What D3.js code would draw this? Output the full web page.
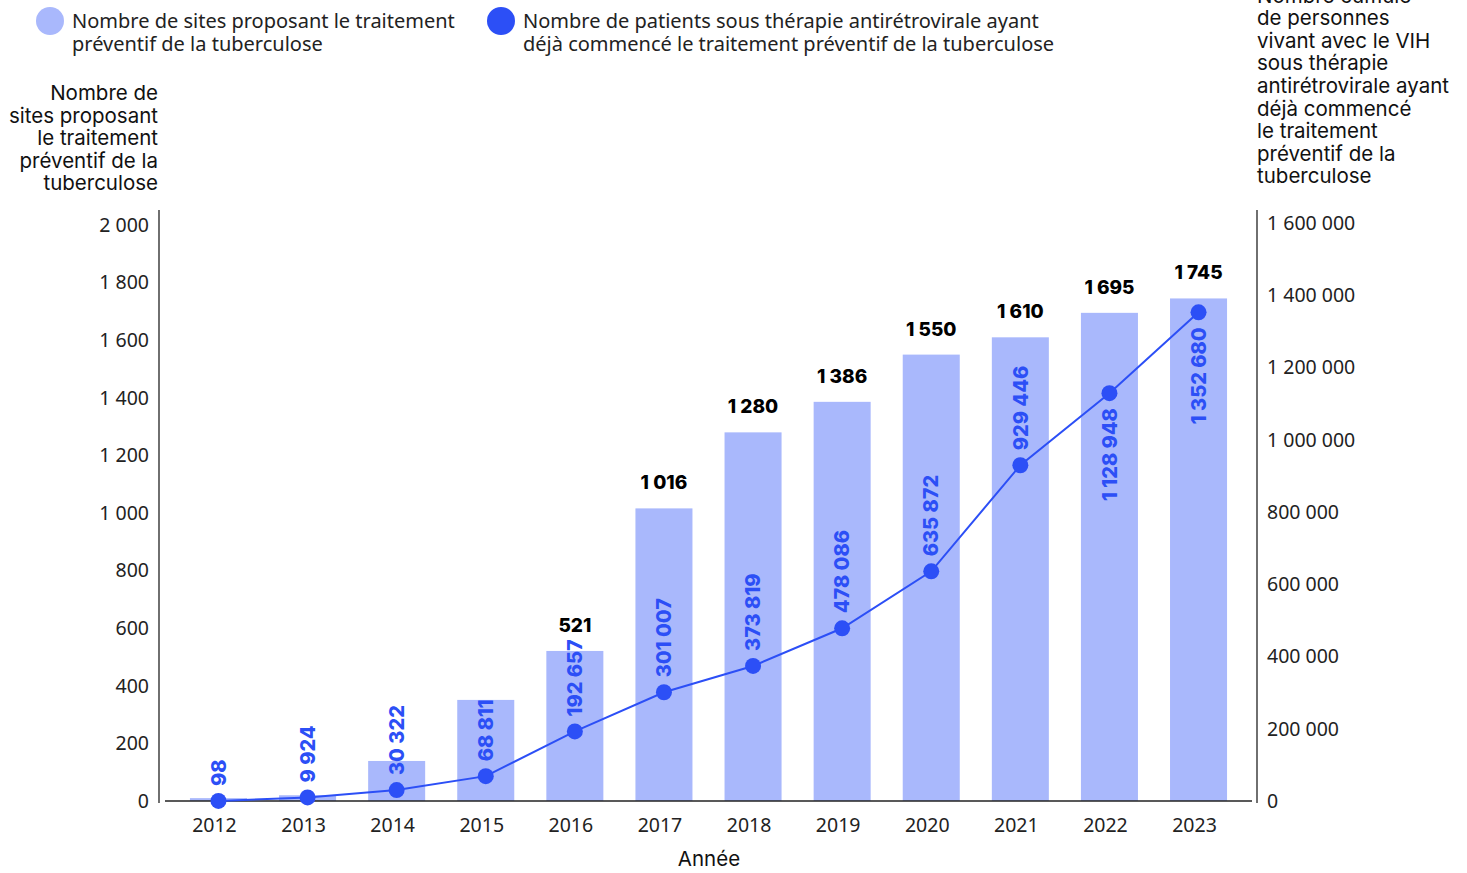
<!DOCTYPE html>
<html>
<head>
<meta charset="utf-8">
<script src="https://cdn.jsdelivr.net/npm/d3@7"></script>
<style>
  body { margin: 0; background: #fff; }
  svg { display: block; }
  .tick-label { font-family: "Noto Sans", sans-serif; font-size: 19.5px; fill: #222; }
  .title { font-family: Inter, sans-serif; font-size: 20.5px; fill: #111; }
  .legend-text { font-family: "Noto Sans", sans-serif; font-size: 20px; fill: #222; }
</style>
</head>
<body>
<svg width="1467" height="873"></svg>
<script>
const width = 1467;
const height = 873;

// données
const years = ["2012", "2013", "2014", "2015", "2016", "2017", "2018", "2019", "2020", "2021", "2022", "2023"];
const sites = [10, 20, 139, 351, 521, 1016, 1280, 1386, 1550, 1610, 1695, 1745];
const patients = [98, 9924, 30322, 68811, 192657, 301007, 373819, 478086, 635872, 929446, 1128948, 1352680];
const leftTicks = [0, 200, 400, 600, 800, 1000, 1200, 1400, 1600, 1800, 2000];
const rightTicks = [0, 200000, 400000, 600000, 800000, 1000000, 1200000, 1400000, 1600000];
const firstBarLabelYear = "2016";

const legendLabels = [
    ["Nombre de sites proposant le traitement", "préventif de la tuberculose"],
    ["Nombre de patients sous thérapie antirétrovirale ayant", "déjà commencé le traitement préventif de la tuberculose"]
];
const leftTitle = ["Nombre de", "sites proposant", "le traitement", "préventif de la", "tuberculose"];
const rightTitle = ["Nombre cumulé", "de personnes", "vivant avec le VIH", "sous thérapie", "antirétrovirale ayant", "déjà commencé", "le traitement", "préventif de la", "tuberculose"];
const xTitle = "Année";

const barColor = "#a9b8fc";
const lineColor = "#2c4ff6";

const fr = d3.formatLocale({ decimal: ",", thousands: "\u00a0", grouping: [3], currency: ["", " €"] });
const fmt = fr.format(",d");

const svg = d3.select("svg").attr("viewBox", [0, 0, width, height]);

const x = d3.scaleBand().domain(years).range([165, 1252]).paddingInner(0.36).paddingOuter(0.28);
const yLeft = d3.scaleLinear().domain([0, 2000]).range([801, 225]);
const yRight = d3.scaleLinear().domain([0, 1600000]).range([801, 223]);
const cx = i => x(years[i]) + x.bandwidth() / 2;
const hasBarLabel = i => +years[i] >= +firstBarLabelYear;

// barres
svg.append("g")
    .selectAll("rect")
    .data(sites)
    .join("rect")
    .attr("x", (d, i) => x(years[i]))
    .attr("width", x.bandwidth())
    .attr("y", d => yLeft(d))
    .attr("height", d => yLeft(0) - yLeft(d))
    .attr("fill", barColor);

// étiquettes des barres
svg.append("g")
    .selectAll("text")
    .data(sites)
    .join("text")
    .filter((d, i) => hasBarLabel(i))
    .attr("x", (d, i) => cx(sites.indexOf(d)))
    .attr("y", d => yLeft(d) - 19)
    .attr("text-anchor", "middle")
    .attr("font-family", "Inter, sans-serif")
    .attr("font-weight", 800)
    .attr("font-size", 19)
    .attr("fill", "#000")
    .text(d => fmt(d));

// axes
svg.append("line")
    .attr("x1", 159).attr("x2", 159).attr("y1", 210).attr("y2", 803)
    .attr("stroke", "#222").attr("stroke-width", 1.3);
svg.append("line")
    .attr("x1", 1257).attr("x2", 1257).attr("y1", 210).attr("y2", 803)
    .attr("stroke", "#222").attr("stroke-width", 1.3);
svg.append("line")
    .attr("x1", x.range()[0]).attr("x2", x.range()[1])
    .attr("y1", yLeft(0)).attr("y2", yLeft(0))
    .attr("stroke", "#222").attr("stroke-width", 1.3);

svg.append("g")
    .selectAll("text")
    .data(leftTicks)
    .join("text")
    .attr("class", "tick-label")
    .attr("x", 149)
    .attr("y", d => yLeft(d))
    .attr("dy", "0.35em")
    .attr("text-anchor", "end")
    .text(d => fmt(d));

svg.append("g")
    .selectAll("text")
    .data(rightTicks)
    .join("text")
    .attr("class", "tick-label")
    .attr("x", 1267)
    .attr("y", d => yRight(d))
    .attr("dy", "0.35em")
    .text(d => fmt(d));

svg.append("g")
    .selectAll("text")
    .data(years)
    .join("text")
    .attr("class", "tick-label")
    .attr("x", (d, i) => cx(i) - 4)
    .attr("y", 832)
    .attr("text-anchor", "middle")
    .text(d => d);

svg.append("text")
    .attr("class", "title")
    .attr("x", 709)
    .attr("y", 866)
    .attr("text-anchor", "middle")
    .text(xTitle);

// titres des axes
svg.append("text")
    .attr("class", "title")
    .attr("text-anchor", "end")
    .selectAll("tspan")
    .data(leftTitle)
    .join("tspan")
    .attr("x", 158)
    .attr("y", (d, i) => 100 + i * 22.5)
    .text(d => d);

svg.append("text")
    .attr("class", "title")
    .selectAll("tspan")
    .data(rightTitle)
    .join("tspan")
    .attr("x", 1257)
    .attr("y", (d, i) => 2.5 + i * 22.6)
    .text(d => d);

// ligne
const line = d3.line()
    .x((d, i) => cx(i))
    .y(d => yRight(d));

svg.append("path")
    .datum(patients)
    .attr("fill", "none")
    .attr("stroke", lineColor)
    .attr("stroke-width", 2)
    .attr("d", line);

svg.append("g")
    .selectAll("circle")
    .data(patients)
    .join("circle")
    .attr("cx", (d, i) => cx(i))
    .attr("cy", d => yRight(d))
    .attr("r", 8)
    .attr("fill", lineColor);

// étiquettes de la ligne (verticales) : au-dessus du point, sauf si elles touchent l'étiquette de la barre
svg.append("g")
    .selectAll("text")
    .data(patients)
    .join("text")
    .attr("font-family", "Inter, sans-serif")
    .attr("font-weight", 800)
    .attr("font-size", 20)
    .attr("fill", lineColor)
    .attr("dy", "0.36em")
    .text(d => fmt(d))
    .each(function (d, i) {
        const len = this.getComputedTextLength();
        const py = yRight(d);
        const above = !hasBarLabel(i) || py - 15 - len > yLeft(sites[i]) - 19;
        d3.select(this)
            .attr("text-anchor", above ? "start" : "end")
            .attr("transform", `translate(${cx(i)},${above ? py - 15 : py + 15}) rotate(-90)`);
    });

// légende
const legend = svg.append("g");
[barColor, lineColor].forEach((c, k) => {
    const lx = k === 0 ? 50 : 501;
    legend.append("circle")
        .attr("cx", lx).attr("cy", 21).attr("r", 14)
        .attr("fill", c);
    legend.append("text")
        .attr("class", "legend-text")
        .selectAll("tspan")
        .data(legendLabels[k])
        .join("tspan")
        .attr("x", lx + 22)
        .attr("y", (d, i) => 28 + i * 23)
        .text(d => d);
});
</script>
</body>
</html>
